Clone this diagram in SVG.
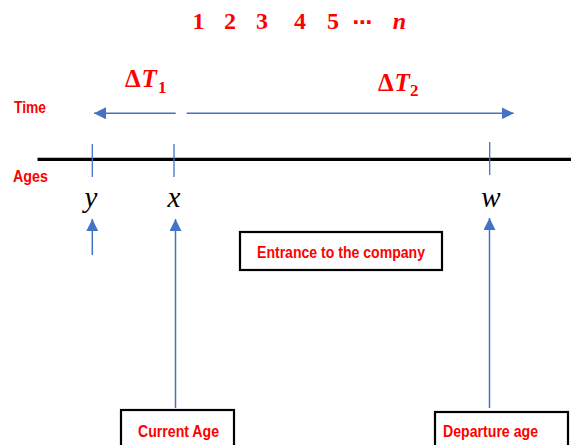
<svg xmlns="http://www.w3.org/2000/svg" width="571" height="445" viewBox="0 0 571 445">
  <style>
    .lbl { font-family: "Liberation Sans", Arial, sans-serif; font-weight: bold; fill: #FF0000; font-size: 16px; }
    .num { font-family: "Liberation Serif", "DejaVu Serif", serif; font-weight: bold; fill: #FF0000; font-size: 24px; text-anchor: middle; }
    .var { font-family: "Liberation Serif", "DejaVu Serif", serif; font-style: italic; fill: #000000; font-size: 29px; text-anchor: middle; }
    .dt { font-family: "Liberation Serif", "DejaVu Serif", serif; font-weight: bold; fill: #FF0000; font-size: 25px; }
    .blue { stroke: #4472C4; stroke-width: 1.5; fill: none; }
    .tick { stroke: #4472C4; stroke-width: 1.3; fill: none; }
    .box { fill: #FFFFFF; stroke: #000000; stroke-width: 2.2; }
  </style>
  <defs>
    <marker id="head" viewBox="0 0 12 12" refX="12" refY="6" markerWidth="12" markerHeight="12" markerUnits="userSpaceOnUse" orient="auto">
      <path d="M0,0 L12,6 L0,12 z" fill="#4472C4"/>
    </marker>
  </defs>

  <!-- sequence of periods -->
  <g id="periods">
    <text class="num" x="198.5" y="29">1</text>
    <text class="num" x="230" y="29">2</text>
    <text class="num" x="262" y="29">3</text>
    <text class="num" x="300" y="29">4</text>
    <text class="num" x="333" y="29">5</text>
    <text class="num" x="362.5" y="29" style="font-family: 'DejaVu Sans', sans-serif; font-size: 20px;">⋯</text>
    <text class="num" x="399.5" y="29" font-style="italic">n</text>
  </g>

  <!-- row labels -->
  <g id="label-time"><text class="lbl" x="14" y="113" textLength="32" lengthAdjust="spacingAndGlyphs">Time</text></g>
  <g id="label-ages"><text class="lbl" x="13" y="181.5" textLength="35" lengthAdjust="spacingAndGlyphs">Ages</text></g>

  <!-- interval labels -->
  <g id="dt1">
    <text class="dt" y="86.5"><tspan x="125">Δ</tspan><tspan x="141.5" font-style="italic">T</tspan><tspan x="158" y="92.5" font-size="17">1</tspan></text>
  </g>
  <g id="dt2">
    <text class="dt" y="91"><tspan x="378">Δ</tspan><tspan x="394.5" font-style="italic">T</tspan><tspan x="410" y="96" font-size="17">2</tspan></text>
  </g>

  <!-- age timeline -->
  <g id="timeline">
    <line x1="37.5" y1="159.3" x2="571" y2="159.3" stroke="#000000" stroke-width="3.2"/>
  </g>

  <!-- age marks -->
  <g id="age-y">
    <line class="tick" x1="92.3" y1="144" x2="92.3" y2="177"/>
    <text class="var" x="91" y="206.5">y</text>
  </g>
  <g id="age-x">
    <line class="tick" x1="174" y1="144" x2="174" y2="177"/>
    <text class="var" x="174" y="206.5">x</text>
  </g>
  <g id="age-w">
    <line class="tick" x1="489.7" y1="142" x2="489.7" y2="175"/>
    <text class="var" x="491" y="206.5">w</text>
  </g>

  <!-- boxes -->
  <g id="box-entrance">
    <rect class="box" x="240" y="232" width="202" height="38"/>
    <text class="lbl" x="257" y="257.5" textLength="168" lengthAdjust="spacingAndGlyphs">Entrance to the company</text>
  </g>
  <g id="box-current">
    <rect class="box" x="121" y="410" width="113" height="50"/>
    <text class="lbl" x="138" y="437" textLength="81" lengthAdjust="spacingAndGlyphs">Current Age</text>
  </g>
  <g id="box-departure">
    <rect class="box" x="435" y="412" width="133" height="50"/>
    <text class="lbl" x="443" y="437" textLength="95" lengthAdjust="spacingAndGlyphs">Departure age</text>
  </g>

  <!-- connectors -->
  <g id="connectors">
    <line class="blue" x1="175.7" y1="113.3" x2="94" y2="113.3" marker-end="url(#head)"/>
    <line class="blue" x1="186.7" y1="113.3" x2="513.7" y2="113.3" marker-end="url(#head)"/>
    <line class="blue" x1="92.3" y1="255" x2="92.3" y2="219" marker-end="url(#head)"/>
    <line class="blue" x1="175.5" y1="408" x2="175.5" y2="219" marker-end="url(#head)"/>
    <line class="blue" x1="489.5" y1="408" x2="489.5" y2="218" marker-end="url(#head)"/>
  </g>
</svg>
